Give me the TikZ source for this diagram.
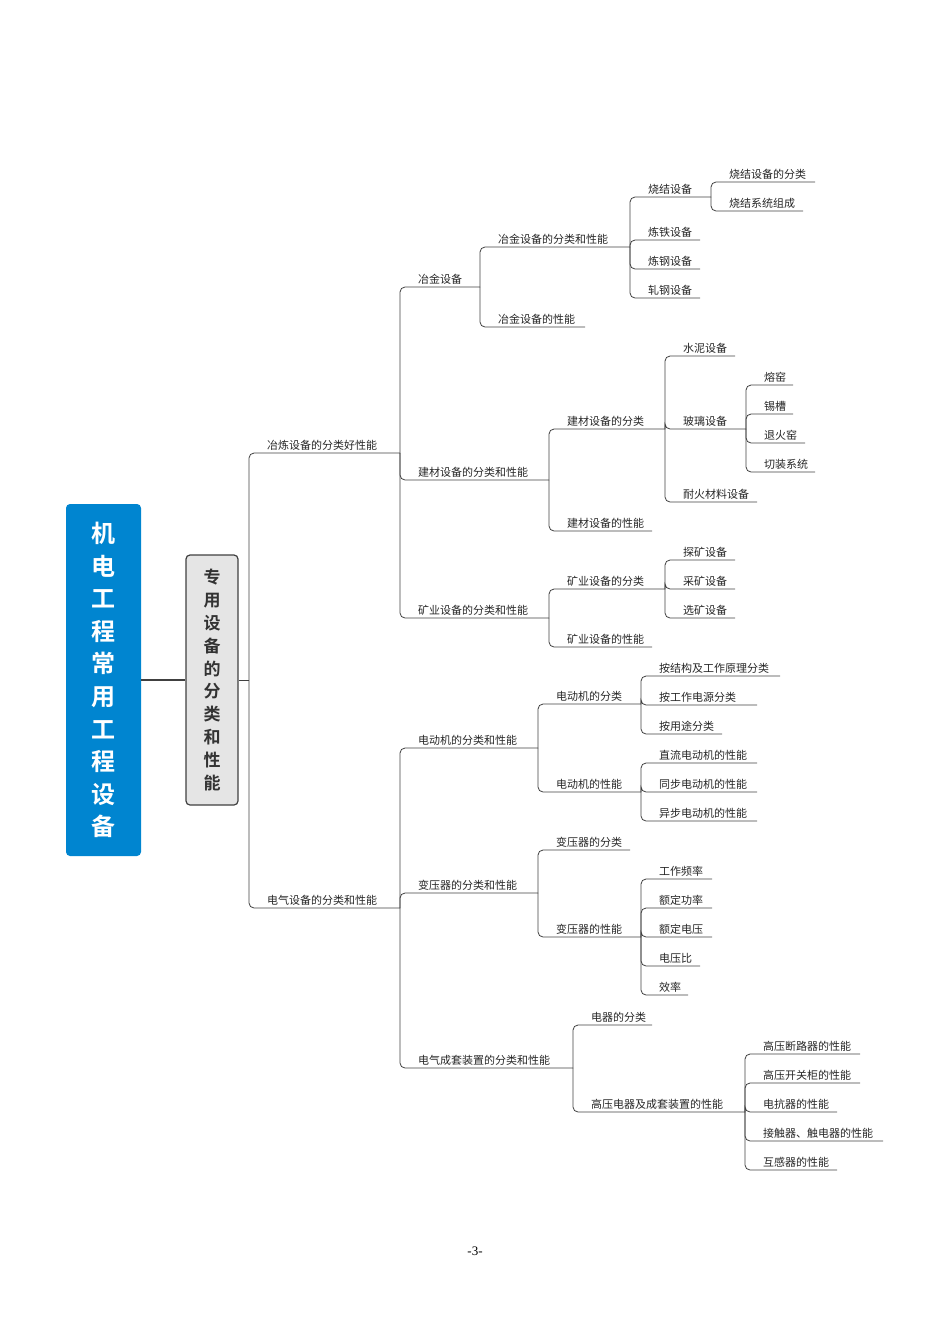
\documentclass[tikz,border=0pt]{standalone}
\usepackage{fontspec}
\setmainfont{Liberation Serif}
\newfontfamily\cjk{Noto Sans CJK SC}
\newfontfamily\cjkb{Noto Sans CJK SC Bold}
\tikzset{ln/.style={draw=black!75,line width=0.8pt},
lab/.style={anchor=south west,inner sep=1pt,font=\cjk\fontsize{11}{12}\selectfont,text=black!85}}
\newcommand\nd[6]{\draw[ln,rounded corners=5pt] (#2,#3) |- (#5,#4);
\node[lab] (#1) at (#2+17,#4-1) {#6};}
\begin{document}
\begin{tikzpicture}[x=1pt,y=-1pt]
\useasboundingbox (0,0) rectangle (950,1333);
\node[fill={rgb,255:red,0;green,133;blue,208},rounded corners=4pt,minimum width=75pt,minimum height=352pt,inner sep=0pt] (root) at (103.5,680) {};
\node[text=white,font=\cjkb\fontsize{24}{32.6}\selectfont,align=center] (roott) at (103.5,680) {机\\电\\工\\程\\常\\用\\工\\程\\设\\备};
\node[fill=black!10,draw=black!75,line width=1.2pt,rounded corners=4pt,minimum width=52pt,minimum height=250pt,inner sep=0pt] (l1) at (212,680) {};
\node[text=black!80,font=\cjkb\fontsize{17}{22.8}\selectfont,align=center] (l1t) at (212,680) {专\\用\\设\\备\\的\\分\\类\\和\\性\\能};
\draw[black!75,line width=2.5pt] (root.east|-0,680) -- (l1.west|-0,680);
\draw[ln] (l1.east|-0,680) -- (249,680);
\nd{a}{249}{680}{453}{400}{冶炼设备的分类好性能}
\nd{b}{249}{680}{908}{400}{电气设备的分类和性能}
\nd{a1}{400}{453}{287}{480}{冶金设备}
\nd{a2}{400}{453}{480}{549}{建材设备的分类和性能}
\nd{a3}{400}{453}{618}{549}{矿业设备的分类和性能}
\nd{a11}{480}{287}{247}{630}{冶金设备的分类和性能}
\nd{a12}{480}{287}{327}{585}{冶金设备的性能}
\nd{a111}{630}{247}{197}{711}{烧结设备}
\nd{a112}{630}{247}{240}{700}{炼铁设备}
\nd{a113}{630}{247}{269}{700}{炼钢设备}
\nd{a114}{630}{247}{298}{700}{轧钢设备}
\nd{a1111}{711}{197}{182}{815}{烧结设备的分类}
\nd{a1112}{711}{197}{211}{803}{烧结系统组成}
\nd{a21}{549}{480}{429}{665}{建材设备的分类}
\nd{a22}{549}{480}{531}{652}{建材设备的性能}
\nd{a211}{665}{429}{356}{735}{水泥设备}
\nd{a212}{665}{429}{429}{746}{玻璃设备}
\nd{a213}{665}{429}{502}{757}{耐火材料设备}
\nd{a2121}{746}{429}{385}{793}{熔窑}
\nd{a2122}{746}{429}{414}{793}{锡槽}
\nd{a2123}{746}{429}{443}{805}{退火窑}
\nd{a2124}{746}{429}{472}{815}{切装系统}
\nd{a31}{549}{618}{589}{665}{矿业设备的分类}
\nd{a32}{549}{618}{647}{652}{矿业设备的性能}
\nd{a311}{665}{589}{560}{735}{探矿设备}
\nd{a312}{665}{589}{589}{735}{采矿设备}
\nd{a313}{665}{589}{618}{735}{选矿设备}
\nd{b1}{400}{908}{748}{538}{电动机的分类和性能}
\nd{b2}{400}{908}{893}{538}{变压器的分类和性能}
\nd{b3}{400}{908}{1068}{573}{电气成套装置的分类和性能}
\nd{b11}{538}{748}{704}{641}{电动机的分类}
\nd{b12}{538}{748}{792}{641}{电动机的性能}
\nd{b111}{641}{704}{676}{780}{按结构及工作原理分类}
\nd{b112}{641}{704}{705}{757}{按工作电源分类}
\nd{b113}{641}{704}{734}{722}{按用途分类}
\nd{b121}{641}{792}{763}{757}{直流电动机的性能}
\nd{b122}{641}{792}{792}{757}{同步电动机的性能}
\nd{b123}{641}{792}{821}{757}{异步电动机的性能}
\nd{b21}{538}{893}{850}{630}{变压器的分类}
\nd{b22}{538}{893}{937}{641}{变压器的性能}
\nd{b221}{641}{937}{879}{712}{工作频率}
\nd{b222}{641}{937}{908}{712}{额定功率}
\nd{b223}{641}{937}{937}{712}{额定电压}
\nd{b224}{641}{937}{966}{700}{电压比}
\nd{b225}{641}{937}{995}{688}{效率}
\nd{b31}{573}{1068}{1025}{652}{电器的分类}
\nd{b32}{573}{1068}{1112}{745}{高压电器及成套装置的性能}
\nd{b321}{745}{1112}{1054}{860}{高压断路器的性能}
\nd{b322}{745}{1112}{1083}{860}{高压开关柜的性能}
\nd{b323}{745}{1112}{1112}{837}{电抗器的性能}
\nd{b324}{745}{1112}{1141}{883}{接触器、触电器的性能}
\nd{b325}{745}{1112}{1170}{837}{互感器的性能}
\node[font=\fontsize{13}{14}\selectfont] (pg) at (475,1251) {-3-};
\end{tikzpicture}
\end{document}
